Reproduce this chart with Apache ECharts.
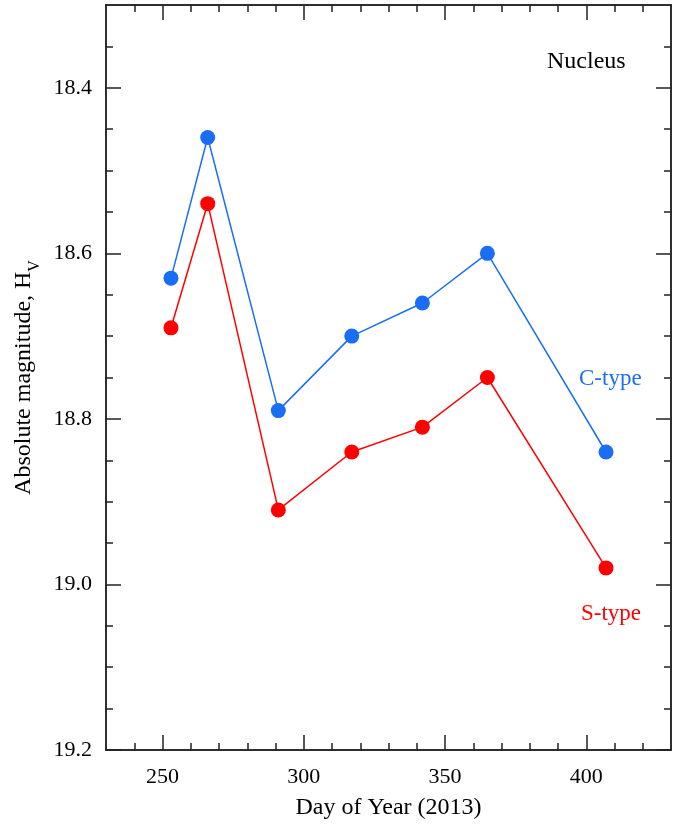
<!DOCTYPE html>
<html>
<head>
<meta charset="utf-8">
<script src="https://cdn.jsdelivr.net/npm/echarts@6/dist/echarts.min.js"></script>
<style>
  html, body { margin: 0; padding: 0; background: #fff; }
  #chart { width: 690px; height: 825px; }
</style>
</head>
<body>
<div id="chart"></div>
<script>
// Observation dates (day of year, 2013)
const days = [253, 266, 291, 317, 342, 365, 407];
// Absolute magnitude H_V of the nucleus under two assumed phase functions
const cType = [18.63, 18.46, 18.79, 18.70, 18.66, 18.60, 18.84];
const sType = [18.69, 18.54, 18.91, 18.84, 18.81, 18.75, 18.98];

// Axis ticks
const xMajor = [250, 300, 350, 400];
const xMinor = [240, 260, 270, 280, 290, 310, 320, 330, 340, 360, 370, 380, 390, 410, 420];
const yMajor = [18.4, 18.6, 18.8, 19.0, 19.2];
const yMinor = [18.35, 18.45, 18.5, 18.55, 18.65, 18.7, 18.75, 18.85, 18.9, 18.95, 19.05, 19.1, 19.15];

const FONT = '"Liberation Serif", "DejaVu Serif", serif';
const AXIS_COLOR = '#222';
const BLUE = '#1a6ef5';
const RED = '#ff0000';

function xAx(position, ticks, len, showLabel) {
  return {
    type: 'value', min: 230, max: 430, position: position,
    axisLine: { show: true, onZero: false, lineStyle: { color: AXIS_COLOR, width: 1.5 } },
    axisTick: { show: true, inside: true, length: len, customValues: ticks,
                lineStyle: { color: AXIS_COLOR, width: 1.5 } },
    axisLabel: { show: showLabel, customValues: ticks, margin: 16,
                 fontFamily: FONT, fontSize: 22, color: '#000' },
    splitLine: { show: false }
  };
}
function yAx(position, ticks, len, showLabel) {
  return {
    type: 'value', min: 18.3, max: 19.2, inverse: true, position: position,
    axisLine: { show: true, onZero: false, lineStyle: { color: AXIS_COLOR, width: 1.5 } },
    axisTick: { show: true, inside: true, length: len, customValues: ticks,
                lineStyle: { color: AXIS_COLOR, width: 1.5 } },
    axisLabel: { show: showLabel, customValues: ticks, margin: 14,
                 fontFamily: FONT, fontSize: 22, color: '#000',
                 formatter: v => v.toFixed(1) },
    splitLine: { show: false }
  };
}

const xBottom = xAx('bottom', xMajor, 15, true);
xBottom.name = 'Day of Year (2013)';
xBottom.nameLocation = 'middle';
xBottom.nameGap = 46;
xBottom.nameTextStyle = { fontFamily: FONT, fontSize: 24, color: '#000' };

// Rotated title with a subscript V on H
const yLeft = yAx('left', yMajor, 15, true);
yLeft.name = '{m|Absolute magnitude, H}{s|V}';
yLeft.nameLocation = 'middle';
yLeft.nameGap = 62;
yLeft.nameRotate = 90;
yLeft.nameTextStyle = {
  rich: {
    m: { fontFamily: FONT, fontSize: 24, color: '#000', lineHeight: 38, verticalAlign: 'middle' },
    s: { fontFamily: FONT, fontSize: 16, color: '#000', lineHeight: 16, verticalAlign: 'bottom' }
  }
};

const chart = echarts.init(document.getElementById('chart'), null, { renderer: 'canvas' });

function lineSeries(name, values, color) {
  return {
    name: name, type: 'line', xAxisIndex: 0, yAxisIndex: 0,
    data: days.map((d, i) => [d, values[i]]),
    symbol: 'circle', symbolSize: 15,
    itemStyle: { color: color },
    lineStyle: { color: color, width: 1.5 },
    animation: false
  };
}

chart.setOption({
  animation: false,
  grid: { left: 106, top: 5, right: 19, bottom: 75, containLabel: false },
  xAxis: [
    xBottom,
    xAx('bottom', xMinor, 7, false),
    xAx('top', xMajor, 15, false),
    xAx('top', xMinor, 7, false)
  ],
  yAxis: [
    yLeft,
    yAx('left', yMinor, 7, false),
    yAx('right', yMajor, 15, false),
    yAx('right', yMinor, 7, false)
  ],
  series: [
    lineSeries('C-type', cType, BLUE),
    lineSeries('S-type', sType, RED)
  ],
  graphic: [
    { type: 'text', left: 547, top: 50,
      style: { text: 'Nucleus', fontFamily: FONT, fontSize: 24, fill: '#000' } },
    { type: 'text', left: 579, top: 367,
      style: { text: 'C-type', fontFamily: FONT, fontSize: 23, fill: BLUE } },
    { type: 'text', left: 581, top: 602,
      style: { text: 'S-type', fontFamily: FONT, fontSize: 23, fill: RED } }
  ]
});
</script>
</body>
</html>
